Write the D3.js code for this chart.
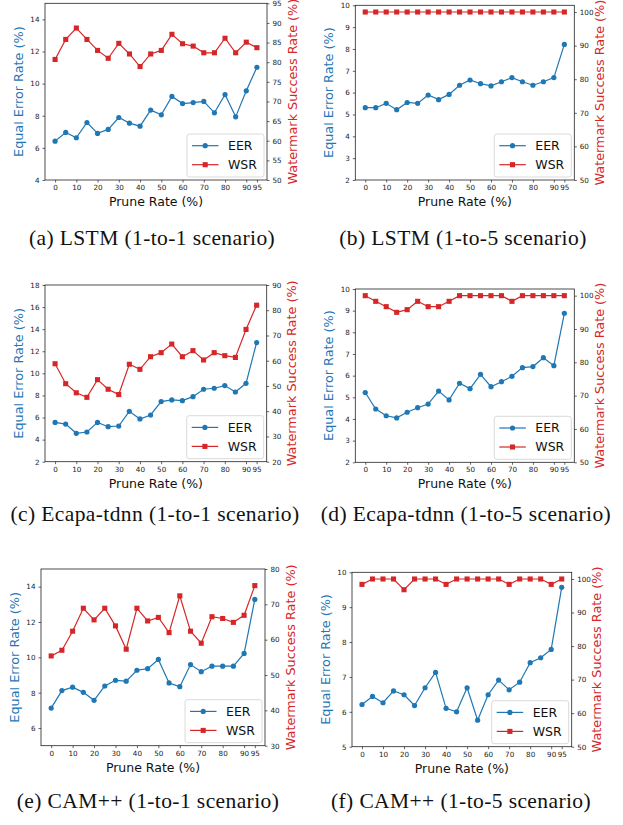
<!DOCTYPE html>
<html>
<head>
<meta charset="utf-8">
<script src="https://cdn.jsdelivr.net/npm/d3@7/dist/d3.min.js"></script>
<style>
  body { margin: 0; background: #fff; }
  svg text { font-family: "DejaVu Sans", sans-serif; }
  svg text.caption { font-family: "Liberation Serif", serif; }
</style>
</head>
<body>
<div id="figure"></div>
<script>

// x values shared by every panel
const pruneRates = [0, 5, 10, 15, 20, 25, 30, 35, 40, 45, 50, 55, 60, 65, 70, 75, 80, 85, 90, 95];
const xTickValues = [0, 10, 20, 30, 40, 50, 60, 70, 80, 90, 95];

// (a) LSTM 1-to-1
const lstm11Eer = [6.42, 6.96, 6.63, 7.58, 6.9, 7.15, 7.89, 7.54, 7.35, 8.35, 8.06, 9.2, 8.76, 8.82, 8.89, 8.18, 9.32, 7.93, 9.55, 11.02];
const lstm11Wsr = [80.7, 85.8, 88.7, 85.8, 83.0, 81.0, 84.8, 82.1, 78.9, 82.1, 83.0, 87.1, 84.7, 84.1, 82.4, 82.4, 86.1, 82.4, 85.1, 83.7];
// (b) LSTM 1-to-5
const lstm15Eer = [5.31, 5.31, 5.51, 5.22, 5.55, 5.51, 5.89, 5.68, 5.92, 6.34, 6.58, 6.41, 6.31, 6.5, 6.69, 6.5, 6.34, 6.5, 6.69, 8.21];
const lstm15Wsr = [100, 100, 100, 100, 100, 100, 100, 100, 100, 100, 100, 100, 100, 100, 100, 100, 100, 100, 100, 100];
// (c) Ecapa-tdnn 1-to-1
const ecapa11Eer = [5.56, 5.41, 4.57, 4.69, 5.56, 5.17, 5.23, 6.56, 5.87, 6.23, 7.44, 7.59, 7.53, 7.89, 8.56, 8.65, 8.89, 8.31, 9.1, 12.79];
const ecapa11Wsr = [58.8, 50.9, 47.3, 45.5, 52.5, 48.7, 46.6, 58.6, 56.6, 61.6, 63.2, 66.6, 61.6, 64.0, 60.3, 63.2, 62.0, 61.3, 72.4, 82.0];
// (d) Ecapa-tdnn 1-to-5
const ecapa15Eer = [5.22, 4.46, 4.15, 4.05, 4.31, 4.52, 4.69, 5.29, 4.88, 5.65, 5.4, 6.06, 5.49, 5.72, 5.97, 6.37, 6.42, 6.83, 6.46, 8.88];
const ecapa15Wsr = [100, 98.3, 96.7, 95.0, 95.8, 98.3, 96.7, 96.7, 98.3, 100, 100, 100, 100, 100, 98.3, 100, 100, 100, 100, 100];
// (e) CAM++ 1-to-1
const cam11Eer = [7.13, 8.12, 8.31, 8.02, 7.57, 8.38, 8.7, 8.65, 9.27, 9.36, 9.88, 8.55, 8.34, 9.59, 9.19, 9.5, 9.5, 9.5, 10.22, 13.28];
const cam11Wsr = [55.4, 57.0, 62.4, 68.9, 65.6, 68.9, 63.9, 57.3, 68.9, 65.3, 66.3, 62.0, 72.4, 62.4, 59.0, 66.5, 66.0, 64.9, 66.9, 75.3];
// (f) CAM++ 1-to-5
const cam15Eer = [6.21, 6.44, 6.26, 6.6, 6.49, 6.18, 6.69, 7.13, 6.1, 6.0, 6.69, 5.76, 6.49, 6.91, 6.63, 6.85, 7.41, 7.55, 7.79, 9.57];
const cam15Wsr = [98.4, 100, 100, 100, 96.8, 100, 100, 100, 98.4, 100, 100, 100, 100, 100, 98.4, 100, 100, 100, 98.4, 100];

const captions = [
  '(a) LSTM (1-to-1 scenario)',
  '(b) LSTM (1-to-5 scenario)',
  '(c) Ecapa-tdnn (1-to-1 scenario)',
  '(d) Ecapa-tdnn (1-to-5 scenario)',
  '(e) CAM++ (1-to-1 scenario)',
  '(f) CAM++ (1-to-5 scenario)'
];

// axis limits and tick steps: [min, max, step]
const eerAxes = [[4, 15, 2], [2, 10, 1], [2, 18, 2], [2, 10, 1], [5, 15, 2], [5, 10, 1]];
const wsrAxes = [[50, 95, 5], [50, 102, 10], [20, 90, 10], [50, 102, 10], [30, 80, 10], [50, 102, 10]];

const eerSeries = [lstm11Eer, lstm15Eer, ecapa11Eer, ecapa15Eer, cam11Eer, cam15Eer];
const wsrSeries = [lstm11Wsr, lstm15Wsr, ecapa11Wsr, ecapa15Wsr, cam11Wsr, cam15Wsr];

// layout (pixels)
const plotBoxes = [
  {left: 45, right: 267, top: 3.3, bottom: 180, capX: 152, capY: 245},
  {left: 355.3, right: 574.3, top: 5.3, bottom: 180, capX: 463, capY: 245},
  {left: 45, right: 266.7, top: 285, bottom: 461.7, capX: 155, capY: 521},
  {left: 355.3, right: 574.3, top: 289, bottom: 462.3, capX: 466, capY: 521},
  {left: 41, right: 265, top: 569, bottom: 745.7, capX: 148, capY: 808},
  {left: 352, right: 571.7, top: 572.3, bottom: 746.7, capX: 461, capY: 808}
];

const blue = '#1f77b4';
const red = '#d62728';
const intFmt = d3.format('d');

const svg = d3.select('#figure')
  .append('svg')
  .attr('width', 623)
  .attr('height', 825);

function tickList(a) {
  return d3.range(a[0] + (a[0] % a[2] === 0 ? 0 : a[2] - a[0] % a[2]), a[1] + 0.001, a[2]);
}

plotBoxes.forEach((box, i) => {
  const g = svg.append('g').attr('class', 'panel');

  const x = d3.scaleLinear().domain([-4.75, 99.75]).range([box.left, box.right]);
  const yL = d3.scaleLinear().domain([eerAxes[i][0], eerAxes[i][1]]).range([box.bottom, box.top]);
  const yR = d3.scaleLinear().domain([wsrAxes[i][0], wsrAxes[i][1]]).range([box.bottom, box.top]);

  // axes
  const xAxis = g.append('g')
    .attr('transform', `translate(0,${box.bottom})`)
    .call(d3.axisBottom(x).tickValues(xTickValues).tickFormat(intFmt).tickSize(2.5).tickPadding(2.5));
  const lAxis = g.append('g')
    .attr('transform', `translate(${box.left},0)`)
    .call(d3.axisLeft(yL).tickValues(tickList(eerAxes[i])).tickFormat(intFmt).tickSize(2.5).tickPadding(3));
  const rAxis = g.append('g')
    .attr('transform', `translate(${box.right},0)`)
    .call(d3.axisRight(yR).tickValues(tickList(wsrAxes[i])).tickFormat(intFmt).tickSize(2.5).tickPadding(3));

  [xAxis, lAxis, rAxis].forEach(a => {
    a.select('.domain').remove();
    a.selectAll('text').attr('font-size', 7.2).attr('fill', '#222');
    a.selectAll('line').attr('stroke', '#222').attr('stroke-width', 0.7);
  });

  // frame
  g.append('rect')
    .attr('x', box.left).attr('y', box.top)
    .attr('width', box.right - box.left).attr('height', box.bottom - box.top)
    .attr('fill', 'none').attr('stroke', '#222').attr('stroke-width', 0.8);

  // EER series
  const eer = eerSeries[i].map((v, k) => [pruneRates[k], v]);
  g.append('path')
    .attr('d', d3.line().x(d => x(d[0])).y(d => yL(d[1]))(eer))
    .attr('fill', 'none').attr('stroke', blue).attr('stroke-width', 1.2);
  g.selectAll('circle.eer').data(eer).join('circle')
    .attr('class', 'eer')
    .attr('cx', d => x(d[0])).attr('cy', d => yL(d[1]))
    .attr('r', 2.6).attr('fill', blue);

  // WSR series
  const wsr = wsrSeries[i].map((v, k) => [pruneRates[k], v]);
  g.append('path')
    .attr('d', d3.line().x(d => x(d[0])).y(d => yR(d[1]))(wsr))
    .attr('fill', 'none').attr('stroke', red).attr('stroke-width', 1.2);
  g.selectAll('path.wsr').data(wsr).join('path')
    .attr('class', 'wsr')
    .attr('transform', d => `translate(${x(d[0])},${yR(d[1])})`)
    .attr('d', d3.symbol(d3.symbolSquare, 26))
    .attr('fill', red);

  // axis labels
  const midY = (box.top + box.bottom) / 2;
  g.append('text')
    .attr('transform', `translate(${box.left - 27},${midY}) rotate(-90)`)
    .attr('text-anchor', 'middle').attr('dominant-baseline', 'central')
    .attr('font-size', 12.8).attr('fill', blue)
    .text('Equal Error Rate (%)');
  g.append('text')
    .attr('transform', `translate(${box.right + 25},${midY}) rotate(-90)`)
    .attr('text-anchor', 'middle').attr('dominant-baseline', 'central')
    .attr('font-size', 12.8).attr('fill', red)
    .text('Watermark Success Rate (%)');
  g.append('text')
    .attr('x', (box.left + box.right) / 2).attr('y', box.bottom + 26)
    .attr('text-anchor', 'middle')
    .attr('font-size', 12.5).attr('fill', '#111')
    .text('Prune Rate (%)');

  // legend
  const lw = 77, lh = 43;
  const lg = g.append('g')
    .attr('transform', `translate(${box.right - 3 - lw},${box.bottom - 3 - lh})`);
  lg.append('rect')
    .attr('width', lw).attr('height', lh).attr('rx', 2.5)
    .attr('fill', 'rgba(255,255,255,0.85)').attr('stroke', '#d0d0d0').attr('stroke-width', 0.8);
  const items = [{name: 'EER', color: blue, shape: 'circle'}, {name: 'WSR', color: red, shape: 'square'}];
  items.forEach((it, k) => {
    const ry = 11.7 + k * 19;
    lg.append('line')
      .attr('x1', 5).attr('x2', 31.5).attr('y1', ry).attr('y2', ry)
      .attr('stroke', it.color).attr('stroke-width', 1.2);
    lg.append('path')
      .attr('transform', `translate(18.2,${ry})`)
      .attr('d', d3.symbol(it.shape === 'circle' ? d3.symbolCircle : d3.symbolSquare, it.shape === 'circle' ? 21 : 26))
      .attr('fill', it.color);
    lg.append('text')
      .attr('x', 41).attr('y', ry).attr('dominant-baseline', 'central')
      .attr('font-size', 12.5).attr('fill', '#111')
      .text(it.name);
  });

  // caption
  svg.append('text')
    .attr('class', 'caption')
    .attr('x', box.capX).attr('y', box.capY)
    .attr('text-anchor', 'middle')
    .attr('font-size', 21.5).attr('letter-spacing', 0.4).attr('fill', '#111')
    .text(captions[i]);
});

</script>
</body>
</html>
